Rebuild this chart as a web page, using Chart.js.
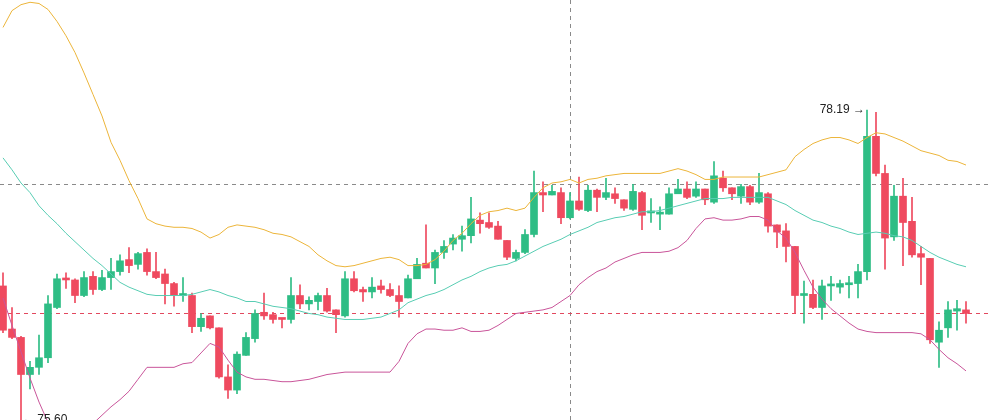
<!DOCTYPE html>
<html>
<head>
<meta charset="utf-8">
<script src="https://cdn.jsdelivr.net/npm/chart.js@4.4.1/dist/chart.umd.min.js"></script>
<style>
html,body{margin:0;padding:0;background:#fff;}
#wrap{width:988px;height:420px;position:relative;}
</style>
</head>
<body>
<div id="wrap"><canvas id="c"></canvas></div>
<script>
// ---- data ----
const opens = [76.72,76.36,76.29,75.98,76.04,76.12,76.54,76.78,76.77,76.64,
76.80,76.69,76.79,76.84,76.94,76.90,77.00,76.84,76.82,76.74,
76.64,76.64,76.38,76.47,76.37,75.96,75.85,76.14,76.28,76.50,
76.48,76.45,76.44,76.64,76.57,76.59,76.64,76.52,76.47,76.78,
76.69,76.67,76.72,76.69,76.64,76.62,76.78,76.91,76.87,77.00,
77.07,77.11,77.14,77.27,77.25,77.22,77.10,76.95,77.00,77.15,
77.50,77.48,77.50,77.29,77.43,77.35,77.52,77.46,77.49,77.44,
77.36,77.50,77.33,77.32,77.32,77.49,77.53,77.47,77.53,77.42,
77.62,77.54,77.47,77.55,77.42,77.49,77.23,77.18,77.05,76.64,
76.65,76.54,76.72,76.71,76.73,76.74,76.84,77.97,77.66,77.13,
77.47,77.26,76.99,76.95,76.25,76.37,76.51,76.52];

const highs = [76.83,76.54,76.30,76.09,76.31,76.64,76.82,76.83,76.78,76.84,
76.84,76.85,76.95,76.98,77.04,77.00,77.03,77.00,76.86,76.75,
76.79,76.66,76.49,76.47,76.37,76.06,76.17,76.33,76.52,76.66,
76.50,76.45,76.79,76.73,76.63,76.66,76.70,76.52,76.84,76.84,
76.71,76.79,76.77,76.74,76.72,76.81,76.95,77.23,77.02,77.10,
77.15,77.22,77.46,77.33,77.33,77.26,77.10,77.02,77.19,77.68,
77.59,77.56,77.54,77.50,77.63,77.56,77.53,77.62,77.54,77.44,
77.57,77.51,77.45,77.38,77.54,77.61,77.59,77.59,77.53,77.76,
77.68,77.54,77.57,77.56,77.66,77.50,77.23,77.24,77.05,76.76,
76.77,76.77,76.80,76.77,76.80,76.90,78.19,78.17,77.73,77.56,
77.62,77.46,77.05,76.95,76.42,76.59,76.60,76.59];

const lows = [76.33,76.28,75.60,75.86,75.98,76.08,76.53,76.70,76.58,76.63,
76.65,76.68,76.69,76.81,76.83,76.86,76.81,76.78,76.57,76.55,
76.59,76.33,76.34,76.36,75.95,75.78,75.82,76.14,76.25,76.44,
76.41,76.37,76.41,76.53,76.52,76.52,76.50,76.33,76.46,76.67,
76.59,76.62,76.66,76.63,76.46,76.62,76.78,76.87,76.74,76.95,
77.02,77.01,77.08,77.16,77.20,77.11,76.94,76.93,76.99,77.13,
77.34,77.48,77.24,77.28,77.35,77.34,77.34,77.44,77.41,77.35,
77.35,77.19,77.25,77.19,77.32,77.49,77.45,77.46,77.40,77.41,
77.51,77.44,77.41,77.40,77.41,77.17,77.04,76.92,76.49,76.41,
76.53,76.44,76.60,76.66,76.62,76.62,76.77,77.64,76.86,77.10,
76.89,76.96,76.73,76.24,76.04,76.29,76.35,76.41];

const closes = [76.35,76.29,75.98,76.04,76.12,76.57,76.78,76.77,76.64,76.79,
76.69,76.79,76.84,76.93,76.89,76.99,76.84,76.79,76.74,76.64,
76.65,76.38,76.45,76.37,75.96,75.85,76.15,76.29,76.49,76.47,
76.44,76.44,76.64,76.57,76.60,76.64,76.51,76.48,76.78,76.68,
76.67,76.71,76.69,76.64,76.59,76.78,76.90,76.87,77.00,77.05,
77.12,77.14,77.28,77.24,77.21,77.11,76.96,77.00,77.15,77.50,
77.48,77.51,77.29,77.43,77.36,77.52,77.46,77.50,77.45,77.37,
77.51,77.31,77.33,77.33,77.49,77.53,77.46,77.53,77.44,77.64,
77.54,77.49,77.55,77.42,77.50,77.22,77.17,77.05,76.64,76.65,
76.54,76.72,76.73,76.74,76.74,76.84,77.97,77.66,77.12,77.47,
77.25,76.98,76.96,76.27,76.35,76.52,76.53,76.49];

const upperBand = [78.88,79.02,79.07,79.09,79.08,79.03,78.93,78.81,78.67,78.50,
78.32,78.14,77.92,77.77,77.60,77.45,77.28,77.24,77.22,77.21,
77.21,77.20,77.17,77.12,77.15,77.21,77.23,77.22,77.21,77.19,
77.16,77.15,77.13,77.09,77.05,76.98,76.93,76.89,76.88,76.89,
76.91,76.93,76.95,76.96,76.94,76.89,76.89,76.90,76.94,77.01,
77.10,77.16,77.24,77.31,77.34,77.35,77.37,77.35,77.37,77.46,
77.54,77.58,77.59,77.61,77.58,77.61,77.62,77.64,77.65,77.66,
77.66,77.66,77.66,77.66,77.68,77.70,77.68,77.65,77.61,77.61,
77.63,77.63,77.63,77.63,77.63,77.65,77.67,77.69,77.80,77.86,
77.91,77.94,77.96,77.96,77.94,77.91,77.96,78.00,77.99,77.96,
77.93,77.89,77.85,77.83,77.81,77.77,77.76,77.73];

const middleBand = [77.79,77.69,77.58,77.50,77.39,77.31,77.24,77.16,77.09,77.02,
76.95,76.89,76.82,76.75,76.71,76.68,76.65,76.64,76.64,76.64,
76.64,76.65,76.67,76.69,76.67,76.64,76.62,76.59,76.59,76.57,
76.55,76.54,76.53,76.51,76.49,76.48,76.46,76.45,76.44,76.44,
76.44,76.45,76.46,76.49,76.52,76.58,76.61,76.64,76.66,76.69,
76.73,76.77,76.80,76.84,76.87,76.89,76.90,76.93,76.97,77.01,
77.05,77.08,77.11,77.15,77.18,77.21,77.25,77.27,77.29,77.30,
77.32,77.34,77.34,77.35,77.37,77.39,77.41,77.43,77.45,77.45,
77.45,77.46,77.46,77.46,77.46,77.46,77.43,77.40,77.35,77.31,
77.27,77.25,77.22,77.20,77.17,77.15,77.16,77.17,77.16,77.14,
77.13,77.10,77.05,77.00,76.96,76.93,76.90,76.88];

const lowerBand = [76.62,76.39,76.17,75.95,75.75,75.58,75.52,75.50,75.49,75.50,
75.57,75.64,75.71,75.77,75.84,75.94,76.04,76.04,76.04,76.04,
76.07,76.08,76.16,76.24,76.21,76.10,76.00,75.96,75.94,75.94,
75.93,75.92,75.92,75.93,75.94,75.96,75.98,75.99,76.00,76.00,
76.00,76.00,76.00,76.00,76.09,76.24,76.32,76.36,76.36,76.35,
76.35,76.37,76.34,76.34,76.35,76.39,76.44,76.49,76.50,76.51,
76.52,76.54,76.59,76.64,76.73,76.79,76.84,76.87,76.92,76.95,
76.98,77.00,77.00,77.00,77.01,77.04,77.10,77.20,77.28,77.29,
77.27,77.27,77.28,77.30,77.30,77.27,77.18,77.12,77.00,76.85,
76.71,76.61,76.53,76.47,76.41,76.36,76.34,76.33,76.33,76.33,
76.33,76.33,76.32,76.27,76.19,76.12,76.07,76.01];

const highLabel = '78.19';
const lowLabel = '75.60';
const crosshairIndex = 63;
const crosshairPrice = 77.57;

// ---- styles ----
const UP = '#2EBD85', DOWN = '#EF4A5F';
const colors = opens.map((o, i) => closes[i] >= o ? UP : DOWN);
const idx = opens.map((_, i) => i);

const wickData = idx.map(i => ({x: i, y: [lows[i], highs[i]]}));
const bodyData = idx.map(i => ({x: i, y: [Math.min(opens[i], closes[i]), Math.max(opens[i], closes[i])]}));
const lineData = arr => arr.map((v, i) => ({x: i, y: v}));

const overlay = {
  id: 'overlay',
  beforeDatasetsDraw(chart) {
    const {ctx, chartArea: a, scales: {x, y}} = chart;
    ctx.save();
    ctx.lineWidth = 1;
    ctx.setLineDash([4, 4]);
    ctx.strokeStyle = '#8a8a8a';
    const cx = Math.round(x.getPixelForValue(crosshairIndex)) + 0.5;
    const cy = Math.round(y.getPixelForValue(crosshairPrice)) + 0.5;
    ctx.beginPath(); ctx.moveTo(cx, a.top); ctx.lineTo(cx, a.bottom); ctx.stroke();
    ctx.beginPath(); ctx.moveTo(a.left, cy); ctx.lineTo(a.right, cy); ctx.stroke();
    const last = closes[closes.length - 1];
    const ly = Math.round(y.getPixelForValue(last)) + 0.5;
    ctx.strokeStyle = '#E2485E';
    ctx.beginPath(); ctx.moveTo(a.left, ly); ctx.lineTo(a.right, ly); ctx.stroke();
    ctx.restore();
  },
  afterDatasetsDraw(chart) {
    const {ctx, scales: {x, y}} = chart;
    ctx.save();
    ctx.fillStyle = '#222';
    ctx.font = '12px "Liberation Sans", Arial, sans-serif';
    ctx.textBaseline = 'middle';
    let hi = 0, lo = 0;
    highs.forEach((v, i) => { if (v > highs[hi]) hi = i; });
    lows.forEach((v, i) => { if (v < lows[lo]) lo = i; });
    ctx.textAlign = 'right';
    ctx.fillText(highLabel + ' \u2192', x.getPixelForValue(hi) - 2, y.getPixelForValue(highs[hi]));
    ctx.textAlign = 'left';
    ctx.fillText('\u2190 ' + lowLabel, x.getPixelForValue(lo) + 1, y.getPixelForValue(lows[lo]));
    ctx.restore();
  }
};

new Chart(document.getElementById('c'), {
  type: 'bar',
  data: {
    datasets: [
      {type: 'line', label: 'UB', data: lineData(upperBand), borderColor: '#ECB53A', borderWidth: 1, pointRadius: 0, tension: 0, order: 0},
      {type: 'line', label: 'MB', data: lineData(middleBand), borderColor: '#58CDB3', borderWidth: 1, pointRadius: 0, tension: 0, order: 0},
      {type: 'line', label: 'LB', data: lineData(lowerBand), borderColor: '#C9559A', borderWidth: 1, pointRadius: 0, tension: 0, order: 0},
      {label: 'body', data: bodyData, backgroundColor: colors, barThickness: 7, grouped: false, minBarLength: 2, order: 1},
      {label: 'wick', data: wickData, backgroundColor: colors, barThickness: 1, grouped: false, order: 2}
    ]
  },
  options: {
    responsive: true,
    maintainAspectRatio: false,
    animation: false,
    layout: {padding: 0},
    plugins: {legend: {display: false}, tooltip: {enabled: false}},
    scales: {
      x: {type: 'linear', display: false, offset: false, min: -1/3, max: 985/9},
      y: {display: false, min: 75.60, max: 79.109}
    }
  },
  plugins: [overlay]
});
</script>
</body>
</html>
